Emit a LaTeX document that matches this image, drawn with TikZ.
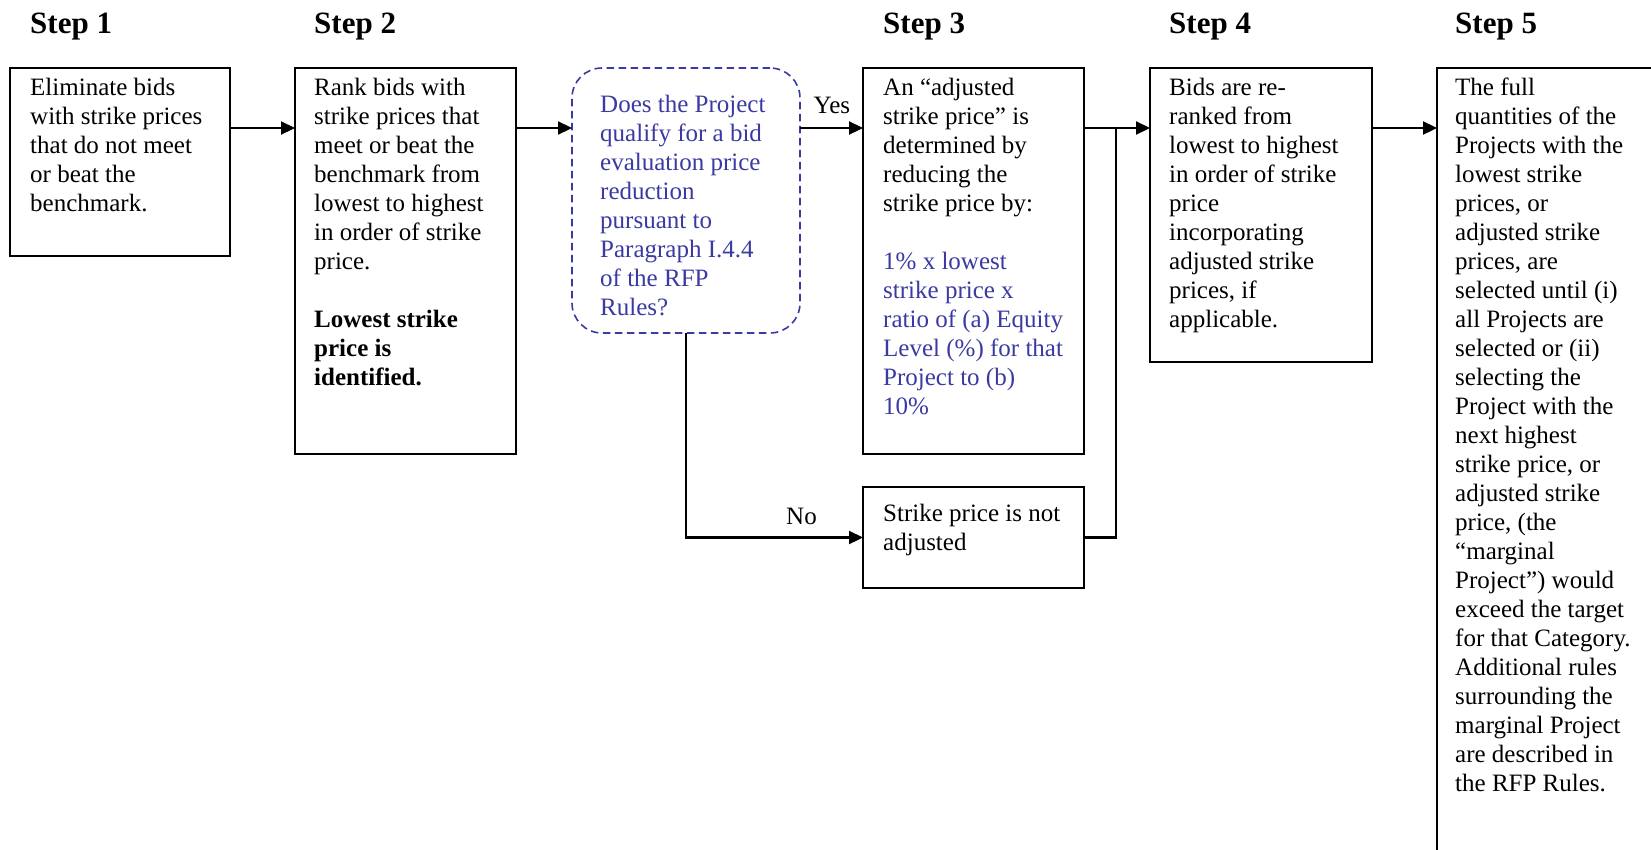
\documentclass[tikz,border=0pt]{standalone}
\usepackage{fontspec}
\setmainfont{Liberation Serif}
\usetikzlibrary{arrows.meta,calc}
\definecolor{qblue}{RGB}{58,58,162}
\begin{document}
\begin{tikzpicture}[x=1pt,y=-1pt,
  box/.style={draw,line width=2.2pt,anchor=north west,inner sep=0pt,outer sep=0pt},
  qbox/.style={draw=qblue,line width=1.6pt,dash pattern=on 7.5pt off 4.5pt,rounded corners=30pt,anchor=north west,inner sep=0pt,outer sep=0pt},
  txt/.style={anchor=north west,inner sep=0pt,align=left,font=\fontsize{25}{29}\selectfont},
  steplbl/.style={anchor=base west,inner sep=0pt,font=\fontsize{31}{36}\selectfont\bfseries},
  lbl/.style={anchor=base west,inner sep=0pt,font=\fontsize{25}{29}\selectfont},
  conn/.style={line width=2.2pt},
  arr/.style={line width=2.2pt,-{Triangle[length=14pt,width=13pt]}}]
\useasboundingbox (0,0) rectangle (1651,849);
\clip (0,0) rectangle (1651,849);
\fill[white] (0,0) rectangle (1651,849);
% step labels
\node[steplbl] (s1) at (30,33) {Step 1};
\node[steplbl] (s2) at (314,33) {Step 2};
\node[steplbl] (s3) at (883,33) {Step 3};
\node[steplbl] (s4) at (1169,33) {Step 4};
\node[steplbl] (s5) at (1455,33) {Step 5};
% boxes
\node[box,minimum width=220pt,minimum height=188pt] (b1) at (10,68) {};
\node[box,minimum width=221pt,minimum height=386pt] (b2) at (295,68) {};
\node[qbox,minimum width=228pt,minimum height=265pt] (q) at (572,68) {};
\node[box,minimum width=221pt,minimum height=386pt] (b3) at (863,68) {};
\node[box,minimum width=221pt,minimum height=101pt] (b3b) at (863,487) {};
\node[box,minimum width=222pt,minimum height=294pt] (b4) at (1150,68) {};
\node[box,minimum width=260pt,minimum height=830pt] (b5) at (1437,68) {};
% texts
\node[txt] (t1) at (30,75) {\rule{0pt}{20pt}Eliminate bids\\with strike prices\\that do not meet\\or beat the\\benchmark.};
\node[txt] (t2) at (314,75) {\rule{0pt}{20pt}Rank bids with\\strike prices that\\meet or beat the\\benchmark from\\lowest to highest\\in order of strike\\price.\\[29pt]\textbf{Lowest strike}\\\textbf{price is}\\\textbf{identified.}};
\node[txt,text=qblue] (tq) at (600,92) {\rule{0pt}{20pt}Does the Project\\qualify for a bid\\evaluation price\\reduction\\pursuant to\\Paragraph I.4.4\\of the RFP\\Rules?};
\node[txt] (t3) at (883,75) {\rule{0pt}{20pt}An “adjusted\\strike price” is\\determined by\\reducing the\\strike price by:\\[29pt]\textcolor{qblue}{1\% x lowest}\\\textcolor{qblue}{strike price x}\\\textcolor{qblue}{ratio of (a) Equity}\\\textcolor{qblue}{Level (\%) for that}\\\textcolor{qblue}{Project to (b)}\\\textcolor{qblue}{10\%}};
\node[txt] (t3b) at (883,501) {\rule{0pt}{20pt}Strike price is not\\adjusted};
\node[txt] (t4) at (1169,75) {\rule{0pt}{20pt}Bids are re-\\ranked from\\lowest to highest\\in order of strike\\price\\incorporating\\adjusted strike\\prices, if\\applicable.};
\node[txt] (t5) at (1455,75) {\rule{0pt}{20pt}The full\\quantities of the\\Projects with the\\lowest strike\\prices, or\\adjusted strike\\prices, are\\selected until (i)\\all Projects are\\selected or (ii)\\selecting the\\Project with the\\next highest\\strike price, or\\adjusted strike\\price, (the\\“marginal\\Project”) would\\exceed the target\\for that Category.\\Additional rules\\surrounding the\\marginal Project\\are described in\\the RFP Rules.};
% connectors
\draw[arr] ($(b1.north east)+(0,60)$) -- ($(b2.north west)+(0,60)$);
\draw[arr] ($(b2.north east)+(0,60)$) -- ($(q.north west)+(0,60)$);
\draw[arr] ($(q.north east)+(0,60)$) -- node[lbl,pos=0.2,yshift=15pt] (yes) {Yes} ($(b3.north west)+(0,60)$);
\draw[arr] ($(b3.north east)+(0,60)$) -- ($(b4.north west)+(0,60)$);
\coordinate (j) at ($(b3.north east)+(32,60)$);
\draw[conn] (b3b.east) -| (j);
\draw[arr] (q.south) |- node[lbl,pos=0.78,yshift=13pt] (no) {No} (b3b.west);
\draw[arr] ($(b4.north east)+(0,60)$) -- ($(b5.north west)+(0,60)$);
\end{tikzpicture}
\end{document}
